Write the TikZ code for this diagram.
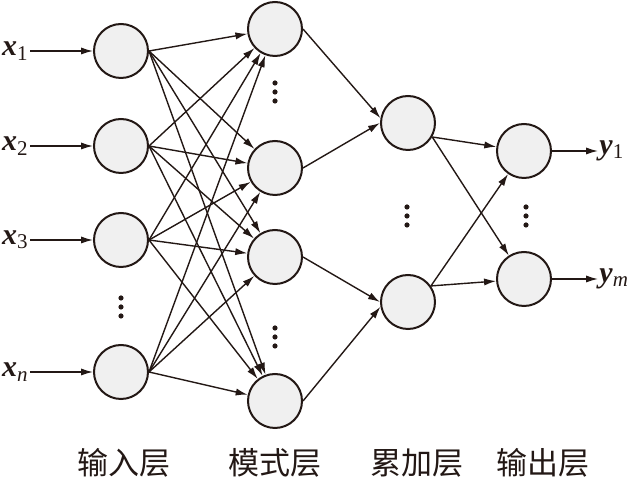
\documentclass[tikz,border=0pt]{standalone}
\usepackage{fontspec}
\setmainfont{Liberation Serif}
\newfontfamily\cjk{Noto Sans CJK SC}
\usetikzlibrary{arrows.meta}
\definecolor{ink}{RGB}{35,24,21}
\definecolor{cellgray}{RGB}{240,240,240}

\begin{document}
\begin{tikzpicture}[x=0.5pt, y=-0.5pt,
  neuron/.style={circle, draw=ink, fill=cellgray, line width=1pt, minimum size=27pt, inner sep=0pt},
  conn/.style={draw=ink, line width=0.7pt, -{Latex[length=6pt,width=3.6pt]}},
  var/.style={font=\fontsize{15}{18}\selectfont, inner sep=0.5pt, text=ink},
  layer/.style={font=\cjk\fontsize{15.5}{18}\selectfont, text=ink}]
\useasboundingbox (0,0) rectangle (633,480);
% input layer
\node[neuron] (in1) at (121,51) {};
\node[neuron] (in2) at (121,146) {};
\node[neuron] (in3) at (121,240) {};
\node[neuron] (inn) at (121,372) {};
\fill[ink] (121,298) circle (1.3pt) (121,307) circle (1.3pt) (121,316) circle (1.3pt);
\node[var, anchor=east] (x1) at (30,51) {\textbf{\textit{x}}\textsubscript{1}};
\node[var, anchor=east] (x2) at (30,146) {\textbf{\textit{x}}\textsubscript{2}};
\node[var, anchor=east] (x3) at (30,240) {\textbf{\textit{x}}\textsubscript{3}};
\node[var, anchor=east] (xn) at (30,372) {\textbf{\textit{x}}\textsubscript{\textit{n}}};
\draw[conn] (x1.east) -- (in1);
\draw[conn] (x2.east) -- (in2);
\draw[conn] (x3.east) -- (in3);
\draw[conn] (xn.east) -- (inn);
% pattern layer
\node[neuron] (p1) at (275,29) {};
\node[neuron] (p2) at (275,168) {};
\node[neuron] (p3) at (275,257) {};
\node[neuron] (p4) at (275,401) {};
\fill[ink] (275,83) circle (1.3pt) (275,92) circle (1.3pt) (275,101) circle (1.3pt);
\fill[ink] (275,328) circle (1.3pt) (275,337) circle (1.3pt) (275,346) circle (1.3pt);
\draw[conn] (in1.east) -- (p1);
\draw[conn] (in1.east) -- (p2);
\draw[conn] (in1.east) -- (p3);
\draw[conn] (in1.east) -- (p4);
\draw[conn] (in2.east) -- (p1);
\draw[conn] (in2.east) -- (p2);
\draw[conn] (in2.east) -- (p3);
\draw[conn] (in2.east) -- (p4);
\draw[conn] (in3.east) -- (p1);
\draw[conn] (in3.east) -- (p2);
\draw[conn] (in3.east) -- (p3);
\draw[conn] (in3.east) -- (p4);
\draw[conn] (inn.east) -- (p1);
\draw[conn] (inn.east) -- (p2);
\draw[conn] (inn.east) -- (p3);
\draw[conn] (inn.east) -- (p4);
% summation layer
\node[neuron] (s1) at (408,123) {};
\node[neuron] (s2) at (408,302) {};
\fill[ink] (407,207) circle (1.3pt) (407,216) circle (1.3pt) (407,225) circle (1.3pt);
\draw[conn] (p1.east) -- (s1.170);
\draw[conn] (p2.east) -- (s1.west);
\draw[conn] (p3.east) -- (s2.west);
\draw[conn] (p4.east) -- (s2.190);
% output layer
\node[neuron] (o1) at (524,151) {};
\node[neuron] (o2) at (524,279) {};
\fill[ink] (526,207) circle (1.3pt) (526,216) circle (1.3pt) (526,225) circle (1.3pt);
\draw[conn] (s1.-30) -- (o1);
\draw[conn] (s1.-30) -- (o2);
\draw[conn] (s2.35) -- (o1);
\draw[conn] (s2.35) -- (o2);
\node[var, anchor=west] (y1) at (598,151) {\textbf{\textit{y}}\textsubscript{1}};
\node[var, anchor=west] (ym) at (598,279) {\textbf{\textit{y}}\textsubscript{\textit{m}}};
\draw[conn] (o1) -- (y1.west);
\draw[conn] (o2) -- (ym.west);
% layer names
\node[layer] (linput) at (124,463) {输入层};
\node[layer] (lpattern) at (275,463) {模式层};
\node[layer] (lsum) at (417,463) {累加层};
\node[layer] (loutput) at (543,463) {输出层};
\end{tikzpicture}
\end{document}
